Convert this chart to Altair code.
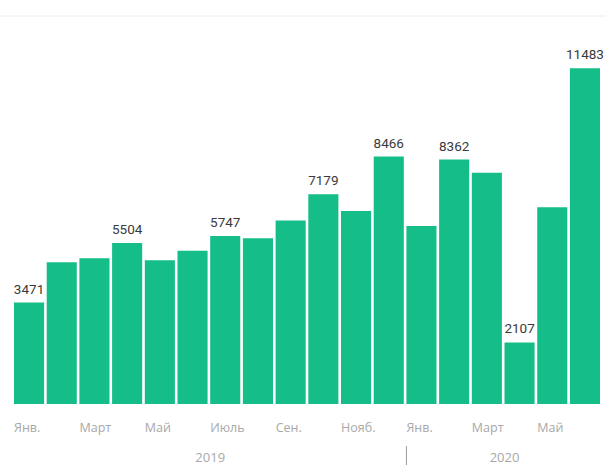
import altair as alt
import pandas as pd

months = ["Янв.", "Февр.", "Март", "Апр.", "Май", "Июнь", "Июль", "Авг.", "Сен.",
          "Окт.", "Нояб.", "Дек.", "Янв.", "Февр.", "Март", "Апр.", "Май", "Июнь"]
years = [2019] * 12 + [2020] * 6
values = [3471, 4847, 4984, 5504, 4916, 5244, 5747, 5668, 6277,
          7179, 6602, 8466, 6089, 8362, 7912, 2107, 6729, 11483]
labeled = [1, 0, 0, 1, 0, 0, 1, 0, 0, 1, 0, 1, 0, 1, 0, 1, 0, 1]

year_names = ["2019", "2020"]
year_center_keys = ["Июль|2019", "Апр.|2020"]
separator_keys = ["Янв.|2020"]

keys = [f"{m}|{y}" for m, y in zip(months, years)]
df = pd.DataFrame({
    "key": keys,
    "value": values,
    "lab": [str(v) if l else "" for v, l in zip(values, labeled)],
})
tick_keys = [k for i, k in enumerate(keys) if i % 2 == 0]

W, H = 586, 388
GREEN = "#15bd88"
GRAY = "#a8a8a8"
FONT = "Roboto"
AXFONT = "Open Sans"

xscale = alt.Scale(domain=keys, paddingInner=0.08, paddingOuter=0)
yscale = alt.Scale(domain=[0, 13272], nice=False, zero=True)

bars = alt.Chart(df).mark_bar(color=GREEN).encode(
    x=alt.X("key:N", scale=xscale, sort=keys,
            axis=alt.Axis(values=tick_keys, labelExpr="split(datum.label, '|')[0]",
                          labelAlign="left", labelAngle=0, labelOffset=-15,
                          labelOverlap=False, labelBound=False, labelFlush=False,
                          ticks=False, domain=False, labelPadding=17,
                          labelFont=AXFONT, labelFontSize=12.5, labelColor=GRAY,
                          title=None, labelBaseline="top")),
    y=alt.Y("value:Q", scale=yscale, axis=None),
)

texts = alt.Chart(df).mark_text(
    baseline="alphabetic", dy=-9, font=FONT, fontSize=13.5, color="#3a3a3a"
).encode(
    x=alt.X("key:N", scale=xscale, sort=keys),
    y=alt.Y("value:Q", scale=yscale),
    text="lab:N",
)

ydf = pd.DataFrame({"key": year_center_keys, "year": year_names})
year_text = alt.Chart(ydf).mark_text(
    baseline="middle", align="center", font=AXFONT, fontSize=13, color=GRAY
).encode(
    x=alt.X("key:N", scale=xscale, sort=keys, bandPosition=0),
    y=alt.value(H + 54),
    text="year:N",
)

sdf = pd.DataFrame({"key": separator_keys})
sep = alt.Chart(sdf).mark_rule(color="#9a9a9a", strokeWidth=1).encode(
    x=alt.X("key:N", scale=xscale, sort=keys, bandPosition=0),
    y=alt.value(H + 42),
    y2=alt.value(H + 61),
)

top_line = alt.Chart(pd.DataFrame({"a": [0]})).mark_rule(color="#ececec", strokeWidth=1).encode(
    x=alt.value(-14), x2=alt.value(W + 6), y=alt.value(0)
)

chart = alt.layer(top_line, bars, texts, year_text, sep).properties(
    width=W, height=H,
    autosize=alt.AutoSizeParams(type="none"),
    padding={"left": 14, "top": 16, "right": 6, "bottom": 61},
    background="white",
).configure_view(stroke=None)

chart.save("out.html", embed_options={"renderer": "svg", "actions": False})
